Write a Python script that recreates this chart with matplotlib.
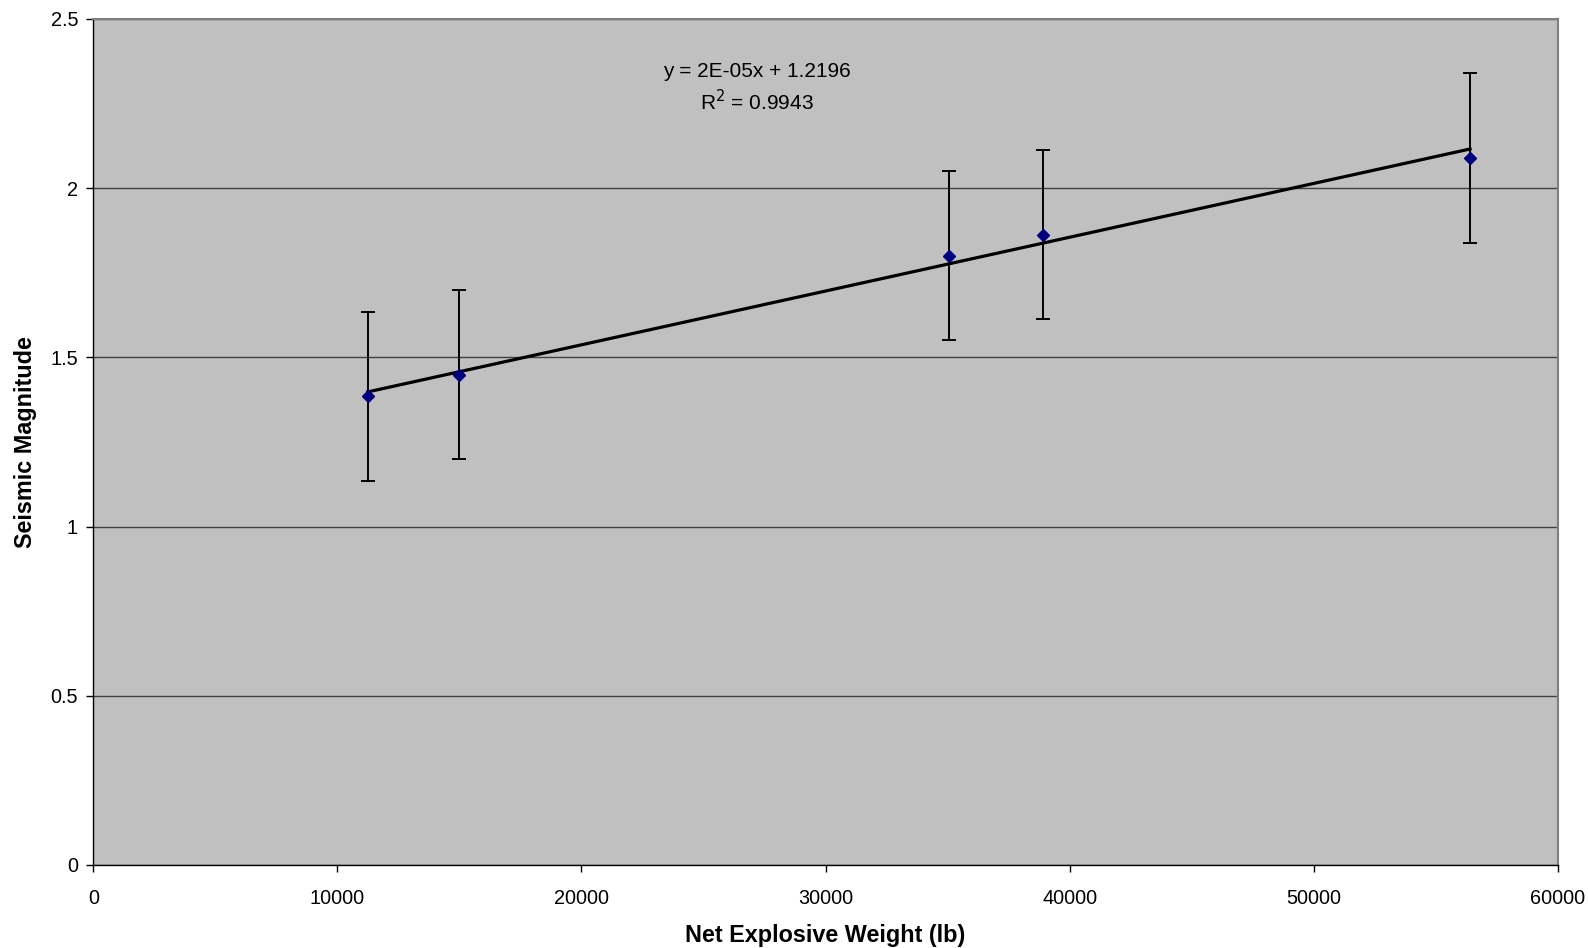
import numpy as np
import matplotlib
matplotlib.use("Agg")
import matplotlib.pyplot as plt

# data
net_weight = [11240, 15000, 35040, 38920, 56410]
magnitude = [1.385, 1.449, 1.800, 1.862, 2.089]
mag_error = [0.25, 0.25, 0.25, 0.25, 0.25]

plt.rcParams['font.family'] = ['Liberation Sans', 'DejaVu Sans']

fig = plt.figure(figsize=(15.88, 9.48), dpi=100)
ax = fig.add_axes([0.0588, 0.0876, 0.9221, 0.8924])
ax.set_facecolor("#C0C0C0")

# horizontal gridlines
ax.set_axisbelow(True)
ax.yaxis.grid(True, color="#404040", linewidth=1.0)

# linear trendline over the data range
slope, intercept = np.polyfit(net_weight, magnitude, 1)
xs = np.array([min(net_weight), max(net_weight)])
ax.plot(xs, slope * xs + intercept, color="black", linewidth=2.3, zorder=3)

ax.errorbar(net_weight, magnitude, yerr=mag_error, fmt="D", color="#000080",
            markersize=6, ecolor="black", elinewidth=1.4, capsize=5,
            capthick=1.4, zorder=4)

ax.text(27190, 2.345, "y = 2E-05x + 1.2196", ha="center", va="center", fontsize=15)
ax.text(27190, 2.255, "R$^2$ = 0.9943", ha="center", va="center", fontsize=15)

ax.set_xlim(0, 60000)
ax.set_ylim(0, 2.5)
ax.set_xticks(np.arange(0, 60001, 10000))
ax.set_yticks([0, 0.5, 1, 1.5, 2, 2.5])
ax.set_yticklabels(["0", "0.5", "1", "1.5", "2", "2.5"])
ax.tick_params(direction="out", length=5, width=1, labelsize=14.3, color="black")
ax.tick_params(axis="x", pad=12)
ax.tick_params(axis="y", pad=6)

for side in ["left", "bottom"]:
    ax.spines[side].set_color("black")
    ax.spines[side].set_linewidth(1.0)
for side in ["top", "right"]:
    ax.spines[side].set_color("#808080")
    ax.spines[side].set_linewidth(1.5)

ax.set_xlabel("Net Explosive Weight (lb)", fontsize=16.8, fontweight="bold", labelpad=12)
ax.set_ylabel("Seismic Magnitude", fontsize=16.8, fontweight="bold", labelpad=10)

fig.savefig("out.png", dpi=100)
